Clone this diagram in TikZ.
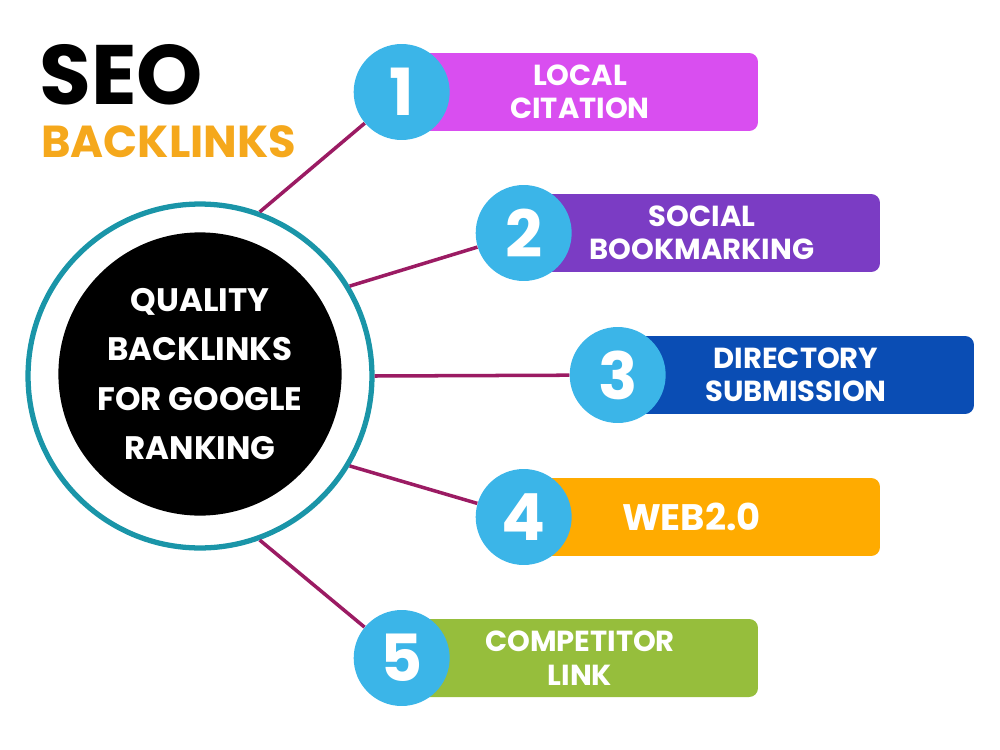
\documentclass[tikz,border=0pt]{standalone}
\usepackage{fontspec}
\setmainfont{Poppins}[BoldFont={* Bold}]
\usetikzlibrary{positioning}

\definecolor{ringteal}{HTML}{1A95A8}
\definecolor{linkplum}{HTML}{9B1B63}
\definecolor{dotblue}{HTML}{3BB5E8}
\definecolor{seoorange}{HTML}{F5A81C}
\definecolor{barpink}{HTML}{D94EF0}
\definecolor{barpurple}{HTML}{7B3CC4}
\definecolor{barblue}{HTML}{0A4DB4}
\definecolor{barorange}{HTML}{FFAB00}
\definecolor{bargreen}{HTML}{96BE3C}

\begin{document}
\begin{tikzpicture}[
    x=0.02cm, y=-0.02cm,
    bar/.style={
        rectangle,
        rounded corners=5pt,
        minimum width=7.12cm,
        minimum height=1.56cm,
        text=white,
        font=\fontsize{16.5}{19}\selectfont\bfseries,
        align=center
    },
    numdot/.style={
        circle,
        fill=dotblue,
        minimum size=1.92cm,
        inner sep=0pt,
        text=white,
        font=\fontsize{37}{37}\selectfont\bfseries
    },
    link/.style={
        draw=linkplum,
        line width=2pt
    }
]

\useasboundingbox (0,0) rectangle (1000,750);

% --- Title ---
\node[anchor=west, font=\fontsize{48}{48}\selectfont\bfseries] (seo) at (33,75) {SEO};
\node[anchor=west, text=seoorange, font=\fontsize{25.5}{25.5}\selectfont\bfseries] (backlinks) at (35,142) {BACKLINKS};

% --- Hub ---
\node[circle, draw=ringteal, line width=3pt, minimum size=6.88cm] (ring) at (200,376) {};
\node[circle, fill=black, minimum size=5.44cm, text=white, align=center,
      font=\fontsize{18.5}{28}\selectfont\bfseries] (hub) at (200,374)
      {QUALITY\\BACKLINKS\\FOR GOOGLE\\RANKING};

% --- Items (bar first, number on its left end) ---
\node[bar, fill=barpink] (b1) at (580,92) {LOCAL\\CITATION};
\node[numdot] (n1) at (b1.west) {1};

\node[bar, fill=barpurple] (b2) at (702,233) {SOCIAL\\BOOKMARKING};
\node[numdot] (n2) at (b2.west) {2};

\node[bar, fill=barblue] (b3) at (796,375) {DIRECTORY\\SUBMISSION};
\node[numdot] (n3) at (b3.west) {3};

\node[bar, fill=barorange, font=\fontsize{21}{21}\selectfont\bfseries] (b4) at (702,517) {\hspace*{-12pt}WEB2.0};
\node[numdot] (n4) at (b4.west) {4};

\node[bar, fill=bargreen] (b5) at (580,658) {COMPETITOR\\LINK};
\node[numdot] (n5) at (b5.west) {5};

% --- Links from hub to numbers ---
\draw[link] (ring.70) -- (n1);
\draw[link] (ring.31) -- (n2);
\draw[link] (ring.0) -- (n3);
\draw[link] (ring.-31) -- (n4);
\draw[link] (ring.-70) -- (n5);

\end{tikzpicture}
\end{document}
